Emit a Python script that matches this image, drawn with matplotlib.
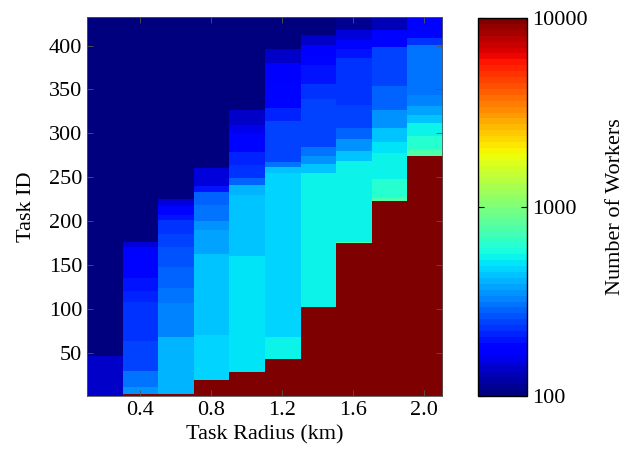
import numpy as np
import matplotlib
matplotlib.use("Agg")
import matplotlib.pyplot as plt
from matplotlib.colors import LogNorm

plt.rcParams['font.family'] = ['Liberation Serif', 'DejaVu Serif']

# ---- data ----
radii = [0.2, 0.4, 0.6, 0.8, 1.0, 1.2, 1.4, 1.6, 1.8, 2.0]
n_tasks = 432
RED = 12000  # values beyond the colour scale (shown dark red)

# each column: upper task id of each band (ascending), and its worker count
tops_02 = [20, 46, 432]
vals_02 = [141, 135, 100]

tops_04 = [2, 10, 29, 63, 84, 107, 120, 134, 170, 176, 432]
vals_04 = [RED, 355, 299, 251, 237, 224, 210, 200, 178, 150, 100]

tops_06 = [2, 67, 106, 123, 147, 170, 185, 201, 206, 217, 225, 432]
vals_06 = [RED, 400, 335, 316, 282, 268, 251, 224, 200, 178, 150, 100]

tops_08 = [18, 70, 162, 189, 199, 218, 233, 239, 260, 432]
vals_08 = [RED, 456, 422, 380, 340, 316, 282, 200, 150, 100]

tops_10 = [27, 160, 229, 240, 248, 263, 278, 284, 300, 309, 326, 432]
vals_10 = [RED, 490, 447, 398, 282, 237, 210, 190, 178, 160, 141, 100]

tops_12 = [42, 67, 254, 261, 267, 313, 328, 358, 379, 396, 432]
vals_12 = [RED, 530, 484, 422, 316, 251, 210, 185, 170, 141, 100]

tops_14 = [101, 111, 254, 265, 273, 284, 339, 356, 377, 389, 400, 412, 432]
vals_14 = [RED, 562, 530, 447, 355, 316, 251, 224, 200, 185, 170, 141, 100]

tops_16 = [174, 176, 221, 268, 279, 293, 306, 332, 385, 396, 406, 417, 432]
vals_16 = [RED, 750, 562, 530, 422, 355, 282, 251, 237, 200, 178, 150, 112]

tops_18 = [222, 226, 247, 277, 290, 306, 326, 353, 398, 417, 432]
vals_18 = [RED, 800, 620, 562, 500, 447, 355, 282, 251, 185, 126]

tops_20 = [274, 280, 296, 311, 320, 330, 343, 400, 408, 432]
vals_20 = [RED, 800, 631, 530, 447, 380, 335, 316, 224, 185]

columns = [(tops_02, vals_02), (tops_04, vals_04), (tops_06, vals_06),
           (tops_08, vals_08), (tops_10, vals_10), (tops_12, vals_12),
           (tops_14, vals_14), (tops_16, vals_16), (tops_18, vals_18),
           (tops_20, vals_20)]

ytick_vals = [50, 100, 150, 200, 250, 300, 350, 400]
xtick_vals = [0.4, 0.8, 1.2, 1.6, 2.0]
xtick_labels = ["0.4", "0.8", "1.2", "1.6", "2.0"]

# ---- build matrix ----
Z = np.zeros((n_tasks, len(radii)))
task_ids = np.arange(1, n_tasks + 1)
for j, (tops, vals) in enumerate(columns):
    lo = 0
    for top, v in zip(tops, vals):
        mask = (task_ids > lo) & (task_ids <= top)
        Z[mask, j] = v
        lo = top

fig = plt.figure(figsize=(6.28, 4.54), dpi=100)
ax = fig.add_axes([87/628, 58/454, 355/628, 379/454])
cmap = plt.get_cmap('jet', 64)
norm = LogNorm(vmin=100, vmax=10000)
dx = radii[1] - radii[0]
im = ax.imshow(Z, origin='lower', aspect='auto', cmap=cmap, norm=norm,
               interpolation='nearest',
               extent=[radii[0] - dx/2, radii[-1] + dx/2, 0.5, n_tasks + 0.5])

ax.set_xticks(xtick_vals)
ax.set_xticklabels(xtick_labels)
ax.set_yticks(ytick_vals)
ax.tick_params(direction='in', top=True, right=True, labelsize=16,
               length=4, width=0.6, color='#555555')
ax.set_xlabel("Task Radius (km)", fontsize=16, labelpad=4)
ax.set_ylabel("Task ID", fontsize=16, labelpad=9)
for s in ax.spines.values():
    s.set_linewidth(0.6)
    s.set_color('#555555')

cax = fig.add_axes([478/628, 58/454, 49/628, 378/454])
cb = fig.colorbar(im, cax=cax, ticks=[100, 1000, 10000])
cb.ax.set_yticklabels(["100", "1000", "10000"])
cb.ax.minorticks_off()
cb.ax.tick_params(direction='in', left=True, right=True, labelsize=16,
                  length=4, width=0.8)
cb.outline.set_linewidth(1.0)
cb.set_label("Number of Workers", fontsize=16, labelpad=13)

fig.savefig("out.png", dpi=100)
